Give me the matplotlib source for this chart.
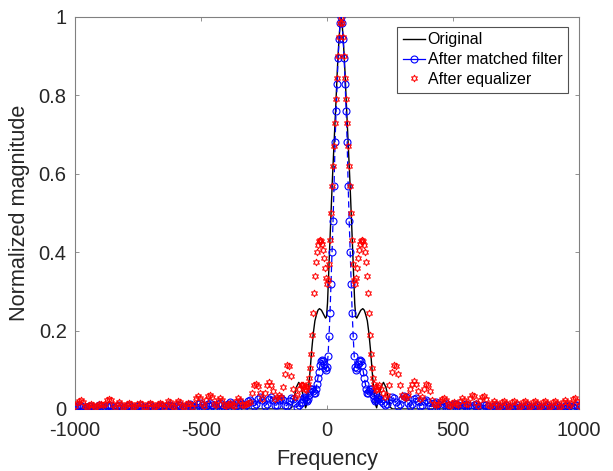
import numpy as np
import matplotlib
matplotlib.use("Agg")
import matplotlib.pyplot as plt
from matplotlib.lines import Line2D

# ---------------------------------------------------------
# data
# ---------------------------------------------------------
# frequency grid: coarse outside the main lobe, finer around it
FREQ_LEFT = np.arange(-1000, -103, 8)
FREQ_CENTER = np.arange(-100, 209, 4)
FREQ_RIGHT = np.arange(216, 1001, 8)

ORIG_X = [-1000, -148, -140, -132, -122, -112, -102, -92, -85, -80, -75, -70,
          -65, -60, -54, -48, -42, -36, -30, -22, -14, -6, -2, 2, 6, 11, 16,
          21, 26, 31, 36, 41, 46, 51, 56, 61, 66, 71, 76, 81, 86, 91, 96, 101,
          106, 110, 114, 118, 126, 134, 142, 148, 154, 160, 166, 172, 177, 182,
          187, 192, 197, 204, 214, 224, 234, 244, 252, 260, 1000]
ORIG_Y = [0.0, 0.0, 0.004, 0.025, 0.055, 0.068, 0.055, 0.025, 0.003, 0.012,
          0.04, 0.075, 0.115, 0.155, 0.195, 0.225, 0.24, 0.252, 0.256, 0.252,
          0.242, 0.232, 0.235, 0.27, 0.335, 0.42, 0.50, 0.58, 0.65, 0.72, 0.79,
          0.865, 0.925, 0.975, 1.0, 0.975, 0.925, 0.865, 0.79, 0.72, 0.65, 0.58,
          0.50, 0.42, 0.335, 0.27, 0.235, 0.232, 0.242, 0.252, 0.256, 0.252,
          0.24, 0.225, 0.195, 0.155, 0.115, 0.075, 0.04, 0.012, 0.003, 0.025,
          0.055, 0.068, 0.055, 0.025, 0.004, 0.0, 0.0]

# after matched filter
MF_LEFT = [
    0.004, 0.008, 0.010, 0.008, 0.004,   # -1000
    0.002, 0.005, 0.008, 0.007, 0.003,   # -960
    0.002, 0.006, 0.009, 0.007, 0.003,   # -920
    0.003, 0.007, 0.010, 0.008, 0.003,   # -880
    0.002, 0.007, 0.009, 0.006, 0.002,   # -840
    0.003, 0.007, 0.009, 0.006, 0.002,   # -800
    0.003, 0.007, 0.009, 0.006, 0.002,   # -760
    0.003, 0.007, 0.009, 0.006, 0.002,   # -720
    0.003, 0.008, 0.010, 0.007, 0.002,   # -680
    0.004, 0.009, 0.011, 0.007, 0.002,   # -640
    0.004, 0.010, 0.011, 0.006, 0.002,   # -600
    0.005, 0.010, 0.012, 0.008, 0.003,   # -560
    0.006, 0.013, 0.015, 0.010, 0.004,   # -520
    0.007, 0.014, 0.016, 0.011, 0.004,   # -480
    0.006, 0.013, 0.015, 0.010, 0.004,   # -440
    0.007, 0.014, 0.017, 0.012, 0.005,   # -400
    0.008, 0.016, 0.019, 0.013, 0.005,   # -360
    0.010, 0.020, 0.024, 0.018, 0.008,   # -320
    0.012, 0.025, 0.030, 0.022, 0.008,   # -280
    0.012, 0.026, 0.031, 0.024, 0.010,   # -240
    0.010, 0.022, 0.028, 0.022, 0.010,   # -200
    0.008, 0.020, 0.028, 0.026, 0.015,   # -160
    0.006, 0.010, 0.016,                 # -120
]
MF_CENTER = [
    0.018, 0.025, 0.030, 0.028, 0.022,   # -100
    0.020, 0.025, 0.035, 0.045, 0.050,   # -80
    0.050, 0.045, 0.040, 0.040, 0.050,   # -60
    0.065, 0.080, 0.095, 0.112, 0.122,   # -40
    0.125, 0.122, 0.115, 0.105, 0.100,   # -20
    0.108, 0.135, 0.185, 0.245, 0.320,   # 0
    0.400, 0.480, 0.570, 0.680, 0.760,   # 20
    0.830, 0.895, 0.945, 0.985, 1.000,   # 40
    0.985, 0.945, 0.895, 0.830, 0.760,   # 60
    0.680, 0.570, 0.480, 0.400, 0.320,   # 80
    0.245, 0.185, 0.135, 0.108, 0.100,   # 100
    0.105, 0.115, 0.122, 0.125, 0.122,   # 120
    0.112, 0.095, 0.080, 0.065, 0.050,   # 140
    0.040, 0.040, 0.045, 0.050, 0.050,   # 160
    0.045, 0.035, 0.025, 0.020, 0.022,   # 180
    0.028, 0.030, 0.025,                 # 200
]
MF_RIGHT = [
    0.020, 0.016, 0.010, 0.012, 0.022,   # 216
    0.030, 0.028, 0.018, 0.008, 0.012,   # 256
    0.026, 0.034, 0.030, 0.016, 0.008,   # 296
    0.014, 0.025, 0.028, 0.020, 0.008,   # 336
    0.010, 0.020, 0.024, 0.018, 0.007,   # 376
    0.006, 0.015, 0.018, 0.013, 0.005,   # 416
    0.005, 0.013, 0.016, 0.011, 0.004,   # 456
    0.005, 0.012, 0.014, 0.010, 0.003,   # 496
    0.004, 0.010, 0.013, 0.009, 0.003,   # 536
    0.004, 0.010, 0.012, 0.008, 0.003,   # 576
    0.003, 0.009, 0.011, 0.007, 0.002,   # 616
    0.003, 0.008, 0.010, 0.007, 0.002,   # 656
    0.003, 0.008, 0.010, 0.006, 0.002,   # 696
    0.003, 0.008, 0.010, 0.006, 0.002,   # 736
    0.003, 0.008, 0.009, 0.006, 0.002,   # 776
    0.003, 0.008, 0.009, 0.006, 0.002,   # 816
    0.003, 0.008, 0.009, 0.006, 0.002,   # 856
    0.003, 0.008, 0.009, 0.006, 0.002,   # 896
    0.003, 0.008, 0.010, 0.007, 0.003,   # 936
    0.006, 0.010, 0.009, 0.004,          # 976
]

# after equalizer
EQ_LEFT = [
    0.008, 0.016, 0.021, 0.022, 0.017,   # -1000
    0.008, 0.004, 0.010, 0.012, 0.009,   # -960
    0.004, 0.008, 0.013, 0.014, 0.010,   # -920
    0.012, 0.022, 0.026, 0.022, 0.010,   # -880
    0.005, 0.013, 0.017, 0.014, 0.005,   # -840
    0.007, 0.014, 0.016, 0.012, 0.004,   # -800
    0.007, 0.014, 0.016, 0.012, 0.004,   # -760
    0.006, 0.013, 0.015, 0.012, 0.004,   # -720
    0.007, 0.014, 0.016, 0.012, 0.005,   # -680
    0.011, 0.020, 0.018, 0.008, 0.005,   # -640
    0.015, 0.021, 0.017, 0.007, 0.005,   # -600
    0.013, 0.016, 0.012, 0.005, 0.013,   # -560
    0.027, 0.033, 0.028, 0.012, 0.008,   # -520
    0.023, 0.033, 0.036, 0.030, 0.013,   # -480
    0.009, 0.022, 0.027, 0.022, 0.009,   # -440
    0.007, 0.014, 0.015, 0.010, 0.008,   # -400
    0.020, 0.028, 0.024, 0.011, 0.010,   # -360
    0.012, 0.015, 0.018, 0.040, 0.060,   # -320
    0.065, 0.058, 0.040, 0.025, 0.040,   # -280
    0.062, 0.070, 0.062, 0.045, 0.025,   # -240
    0.030, 0.035, 0.030, 0.055, 0.090,   # -200
    0.112, 0.110, 0.085, 0.050, 0.030,   # -160
    0.035, 0.050, 0.060,                 # -120
]
EQ_CENTER = [
    0.062, 0.060, 0.055, 0.050, 0.048,   # -100
    0.055, 0.065, 0.080, 0.105, 0.140,   # -80
    0.190, 0.245, 0.295, 0.340, 0.375,   # -60
    0.400, 0.418, 0.428, 0.432, 0.428,   # -40
    0.420, 0.405, 0.385, 0.360, 0.335,   # -20
    0.318, 0.330, 0.370, 0.430, 0.500,   # 0
    0.570, 0.620, 0.670, 0.730, 0.790,   # 20
    0.845, 0.900, 0.950, 0.985, 1.000,   # 40
    0.985, 0.950, 0.900, 0.845, 0.790,   # 60
    0.730, 0.670, 0.620, 0.570, 0.500,   # 80
    0.430, 0.370, 0.330, 0.318, 0.335,   # 100
    0.360, 0.385, 0.405, 0.420, 0.428,   # 120
    0.432, 0.428, 0.418, 0.400, 0.375,   # 140
    0.340, 0.295, 0.245, 0.190, 0.140,   # 160
    0.105, 0.080, 0.065, 0.055, 0.048,   # 180
    0.050, 0.055, 0.060,                 # 200
]
EQ_RIGHT = [
    0.050, 0.040, 0.030, 0.035, 0.060,   # 216
    0.095, 0.112, 0.110, 0.090, 0.060,   # 256
    0.035, 0.030, 0.028, 0.035, 0.050,   # 296
    0.065, 0.072, 0.065, 0.045, 0.025,   # 336
    0.030, 0.050, 0.063, 0.062, 0.045,   # 376
    0.022, 0.012, 0.010, 0.012, 0.020,   # 416
    0.026, 0.028, 0.022, 0.010, 0.008,   # 456
    0.015, 0.018, 0.014, 0.010, 0.020,   # 496
    0.027, 0.024, 0.012, 0.012, 0.028,   # 536
    0.036, 0.032, 0.015, 0.008, 0.022,   # 576
    0.031, 0.033, 0.025, 0.010, 0.008,   # 616
    0.016, 0.020, 0.016, 0.006, 0.008,   # 656
    0.018, 0.021, 0.016, 0.006, 0.008,   # 696
    0.018, 0.020, 0.015, 0.005, 0.008,   # 736
    0.018, 0.021, 0.016, 0.005, 0.008,   # 776
    0.018, 0.020, 0.015, 0.005, 0.008,   # 816
    0.018, 0.020, 0.015, 0.005, 0.008,   # 856
    0.018, 0.021, 0.016, 0.006, 0.008,   # 896
    0.018, 0.022, 0.017, 0.007, 0.012,   # 936
    0.026, 0.028, 0.020, 0.008,          # 976
]

X_TICKS = [-1000, -500, 0, 500, 1000]
Y_TICKS = [0, 0.2, 0.4, 0.6, 0.8, 1]
Y_TICK_LABELS = ["0", "0.2", "0.4", "0.6", "0.8", "1"]


def main():
    plt.rcParams["font.family"] = ["Liberation Sans", "DejaVu Sans"]
    plt.rcParams["axes.unicode_minus"] = False

    freq = np.concatenate([FREQ_LEFT, FREQ_CENTER, FREQ_RIGHT])
    mf = np.concatenate([MF_LEFT, MF_CENTER, MF_RIGHT])
    eq = np.concatenate([EQ_LEFT, EQ_CENTER, EQ_RIGHT])

    fig = plt.figure(figsize=(6.13, 4.71), dpi=100)
    ax = fig.add_axes([75 / 613, 62 / 471, 504 / 613, 392 / 471])

    ax.plot(ORIG_X, ORIG_Y, color="black", linewidth=1.0, zorder=2)
    ax.plot(freq, mf, color="blue", linestyle=(0, (5, 3)), linewidth=0.9,
            marker="o", markersize=5, markerfacecolor="none",
            markeredgewidth=0.8, zorder=3)
    ax.plot(freq, eq, linestyle="none", marker=(6, 1, 0), markersize=5,
            markerfacecolor="none", markeredgecolor="red",
            markeredgewidth=0.7, zorder=4)

    ax.set_xlim(-1000, 1000)
    ax.set_ylim(0, 1)
    ax.set_xticks(X_TICKS)
    ax.set_yticks(Y_TICKS)
    ax.set_yticklabels(Y_TICK_LABELS)

    spine_col = "#808080"
    for s in ax.spines.values():
        s.set_color(spine_col)
        s.set_linewidth(0.8)
    ax.tick_params(direction="in", length=3, width=0.6, color=spine_col,
                   labelsize=14.5, labelcolor="#262626", pad=6,
                   top=True, right=True)
    ax.tick_params(axis="x", pad=9)

    ax.set_xlabel("Frequency", fontsize=15.6, color="#262626", labelpad=6)
    ax.set_ylabel("Normalized magnitude", fontsize=15.6, color="#262626",
                  labelpad=6)

    handles = [
        Line2D([], [], color="black", linewidth=1.0),
        Line2D([], [], color="blue", linewidth=0.9, marker="o", markersize=5,
               markerfacecolor="none", markeredgewidth=0.8),
        Line2D([], [], linestyle="none", marker=(6, 1, 0), markersize=5,
               markerfacecolor="none", markeredgecolor="red",
               markeredgewidth=0.7),
    ]
    labels = ["Original", "After matched filter", "After equalizer"]
    leg = ax.legend(handles, labels, loc="upper right",
                    bbox_to_anchor=(0.978, 0.975), borderaxespad=0,
                    fontsize=11.5, frameon=True, fancybox=False,
                    handlelength=1.4, handletextpad=0.15, borderpad=0.35,
                    labelspacing=0.3, numpoints=1)
    leg.get_frame().set_edgecolor("#262626")
    leg.get_frame().set_linewidth(0.8)

    fig.savefig("out.png", dpi=100)
    plt.close(fig)


if __name__ == "__main__":
    main()
